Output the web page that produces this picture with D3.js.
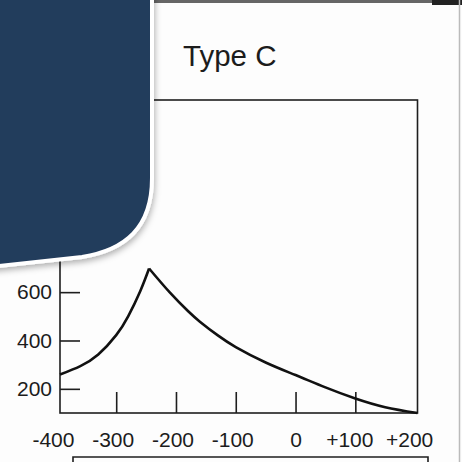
<!DOCTYPE html>
<html>
<head>
<meta charset="utf-8">
<script src="https://cdn.jsdelivr.net/npm/d3@7"></script>
<style>
  html, body { margin: 0; padding: 0; background: #fdfdfd; }
  svg { display: block; }
  text { font-family: "Liberation Sans", Arial, Helvetica, sans-serif; fill: #1c1c1c; }
</style>
</head>
<body>
<div id="app"></div>
<script>
const title = 'Type C'

const xTicks = [-400, -300, -200, -100, 0, 100, 200]
const yTicks = [200, 400, 600]

// rising branch up to the cusp, then the falling branch
const riseX = [-394, -360, -330, -300, -280, -260, -245]
const riseY = [259, 294, 342, 422, 500, 603, 698]
const fallX = [-245, -210, -180, -160, -130, -100, -50, 0, 50, 100, 150, 204]
const fallY = [698, 598, 522, 478, 421, 373, 309, 257, 206, 160, 124, 100]

const W = 462
const H = 462
const frame = {left: 60, right: 417.5, top: 100, bottom: 413}

const svg = d3.select('#app').append('svg')
  .attr('width', W)
  .attr('height', H)

svg.append('rect').attr('width', W).attr('height', H).attr('fill', '#fdfdfd')

const x = d3.scaleLinear().domain([-394, 204]).range([frame.left, frame.right])
const y = d3.scaleLinear().domain([100, 1395]).range([frame.bottom, frame.top])

// scan edges
svg.append('rect').attr('x', 150).attr('y', 0).attr('width', 285).attr('height', 3).attr('fill', '#666')
svg.append('rect').attr('x', 432).attr('y', 0).attr('width', 30).attr('height', 5).attr('fill', '#222')
svg.append('line')
  .attr('x1', 459.5).attr('x2', 459.5).attr('y1', 0).attr('y2', H)
  .attr('stroke', '#bbb').attr('stroke-width', 1.5)

svg.append('text')
  .attr('x', 183)
  .attr('y', 65.5)
  .attr('font-size', 29.5)
  .text(title)

svg.append('rect')
  .attr('x', frame.left)
  .attr('y', frame.top)
  .attr('width', frame.right - frame.left)
  .attr('height', frame.bottom - frame.top)
  .attr('fill', 'none')
  .attr('stroke', '#1e1e1e')
  .attr('stroke-width', 1.6)

const xAxis = svg.append('g')
  .attr('transform', `translate(0,${frame.bottom})`)
  .call(d3.axisBottom(x)
    .tickValues(xTicks)
    .tickSizeInner(-21)
    .tickSizeOuter(0)
    .tickPadding(19)
    .tickFormat((d) => (d > 0 ? `+${d}` : `${d}`)))
xAxis.select('.domain').remove()
xAxis.selectAll('.tick line')
  .attr('stroke', '#1e1e1e')
  .attr('stroke-width', 1.6)
  .filter((d) => d === -400 || d === 200)
  .remove()
xAxis.selectAll('.tick text')
  .attr('font-size', 21)
  .attr('font-family', null)
  .attr('fill', '#1c1c1c')
  .attr('dx', (d) => (d < 0 ? -3.5 : d > 0 ? -6 : 0))

const yAxis = svg.append('g')
  .attr('transform', `translate(${frame.left},0)`)
  .call(d3.axisLeft(y)
    .tickValues(yTicks)
    .tickSizeInner(-20)
    .tickSizeOuter(0)
    .tickPadding(8))
yAxis.select('.domain').remove()
yAxis.selectAll('.tick line').attr('stroke', '#1e1e1e').attr('stroke-width', 1.6)
yAxis.selectAll('.tick text')
  .attr('font-size', 21)
  .attr('font-family', null)
  .attr('fill', '#1c1c1c')

const line = d3.line()
  .x((d) => x(d[0]))
  .y((d) => y(d[1]))
  .curve(d3.curveNatural)

const branches = [
  d3.zip(riseX, riseY),
  d3.zip(fallX, fallY),
]
svg.append('g').selectAll('path')
  .data(branches)
  .join('path')
  .attr('d', line)
  .attr('fill', 'none')
  .attr('stroke', '#111')
  .attr('stroke-width', 2.6)
  .attr('stroke-linejoin', 'miter')

// box below the axis labels
svg.append('path')
  .attr('d', 'M73,470 V457 H428 V470')
  .attr('fill', 'none')
  .attr('stroke', '#1e1e1e')
  .attr('stroke-width', 1.6)

// overlay panel in the top-left corner
const defs = svg.append('defs')
const shadow = defs.append('filter').attr('id', 'shadow')
  .attr('x', '-20%').attr('y', '-20%').attr('width', '150%').attr('height', '150%')
shadow.append('feDropShadow')
  .attr('dx', 1).attr('dy', 3)
  .attr('stdDeviation', 3)
  .attr('flood-color', '#000')
  .attr('flood-opacity', 0.3)

svg.append('path')
  .attr('d', 'M-10,-10 H152 V178 C152,228 125,250 82,257 L-10,267 Z')
  .attr('fill', '#243c5c')
  .attr('stroke', '#fff')
  .attr('stroke-width', 4)
  .attr('filter', 'url(#shadow)')
</script>
</body>
</html>
